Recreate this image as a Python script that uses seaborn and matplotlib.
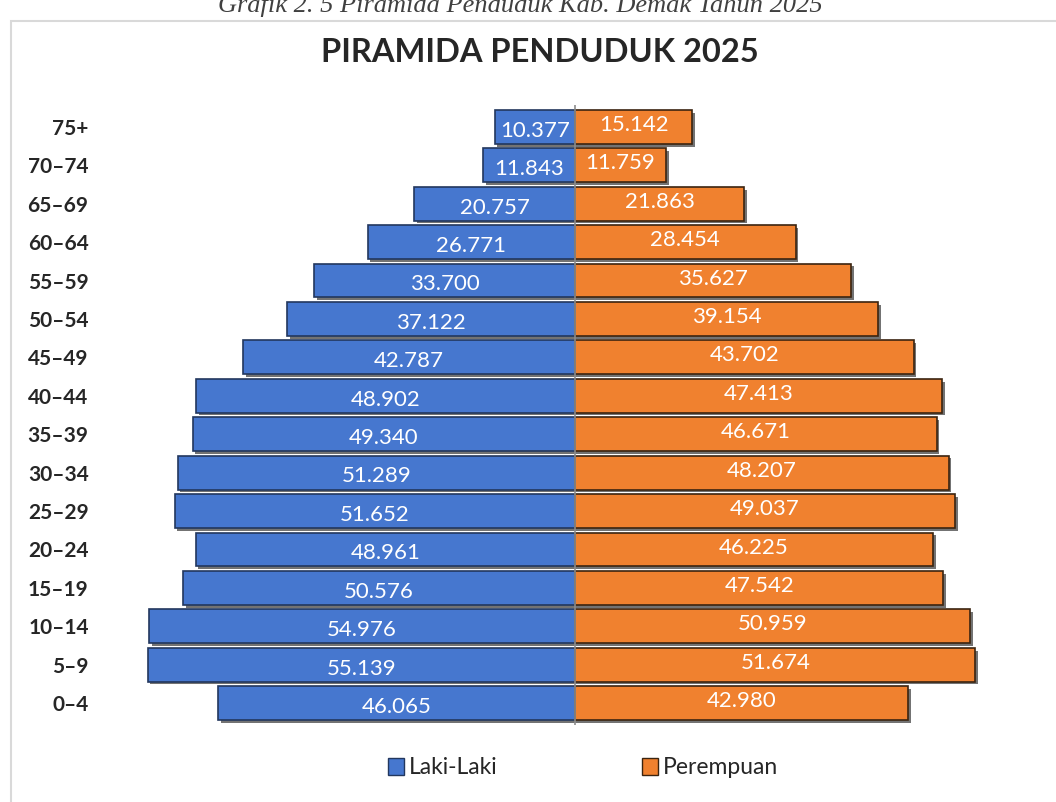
# population pyramid with seaborn, horizontal bars both sides.

import matplotlib
matplotlib.use('Agg')
import matplotlib.pyplot as plt
import matplotlib.patheffects as pe
from matplotlib.patches import Patch, Rectangle
import pandas as pd
import seaborn as sns

# data, top row first
age_groups = ['75+', '70–74', '65–69', '60–64', '55–59', '50–54', '45–49', '40–44',
              '35–39', '30–34', '25–29', '20–24', '15–19', '10–14', '5–9', '0–4']
laki = [10377, 11843, 20757, 26771, 33700, 37122, 42787, 48902,
        49340, 51289, 51652, 48961, 50576, 54976, 55139, 46065]
perempuan = [15142, 11759, 21863, 28454, 35627, 39154, 43702, 47413,
             46671, 48207, 49037, 46225, 47542, 50959, 51674, 42980]

df = pd.DataFrame({'umur': age_groups, 'laki': [-v for v in laki], 'perempuan': perempuan})

sns.set_style('white')
plt.rcParams['font.family'] = ['Lato', 'DejaVu Sans']

W, H = 1056, 802
fig = plt.figure(figsize=(W / 100, H / 100), dpi=100)
# axes placed in pixel terms
left, right, top, bottom = 140, 990, 105, 725
ax = fig.add_axes([left / W, 1 - bottom / H, (right - left) / W, (bottom - top) / H])

blue = '#4677CF'
orange = '#F0812F'
shadow = [pe.SimplePatchShadow(offset=(2, -2), shadow_rgbFace='black', alpha=0.55), pe.Normal()]

sns.barplot(data=df, y='umur', x='laki', order=age_groups, orient='h', color=blue,
            width=0.88, edgecolor='#22375e', linewidth=1.2, saturation=1, ax=ax)
sns.barplot(data=df, y='umur', x='perempuan', order=age_groups, orient='h', color=orange,
            width=0.88, edgecolor='#3b2410', linewidth=1.2, saturation=1, ax=ax)
for bar in ax.patches:
    bar.set_path_effects(shadow)

scale = 7.75 / 1000  # px per person
ax.set_xlim(-(575 - left) / scale, (right - 575) / scale)
ax.set_ylim(15.57, -0.57)
ax.axvline(0, color='#8c8c8c', lw=1.2, zorder=5)

def fmt(v):
    return f'{v:,}'.replace(',', '.')

for i, (l, p) in enumerate(zip(laki, perempuan)):
    ax.text(-l / 2, i + 0.1, fmt(l), color='white', ha='center', va='center', fontsize=16)
    ax.text(p / 2, i - 0.05, fmt(p), color='white', ha='center', va='center', fontsize=16)

ax.set_xlabel('')
ax.set_ylabel('')
ax.set_xticks([])
ax.tick_params(axis='y', length=0, pad=37)
for lab in ax.get_yticklabels():
    lab.set_fontweight('bold')
    lab.set_fontsize(15)
sns.despine(ax=ax, left=True, bottom=True)

fig.text(540 / W, 1 - 52 / H, 'PIRAMIDA PENDUDUK 2025', ha='center', va='center',
         fontsize=23.5, fontweight='bold')
fig.text(520 / W, 1 - 12 / H, 'Grafik 2. 5 Piramida Penduduk Kab. Demak Tahun 2025',
         ha='center', va='baseline', fontsize=19, style='italic', color='#404040',
         family=['Liberation Serif'])

# chart frame
fig.patches.append(Rectangle((11 / W, -0.05), 1.2, 1.05 - 21 / H, transform=fig.transFigure,
                             fill=False, edgecolor='#d9d9d9', lw=1.5))

handles = [Patch(facecolor=blue, edgecolor='#22375e'), Patch(facecolor=orange, edgecolor='#3b2410')]
fig.legend(handles, ['Laki-Laki', 'Perempuan'], loc='center', ncol=2, frameon=False,
           bbox_to_anchor=(583 / W, 1 - 768 / H), fontsize=16.5, handlelength=0.7,
           handleheight=0.7, handletextpad=0.2, columnspacing=6.3)

fig.savefig('out.png', dpi=100)
